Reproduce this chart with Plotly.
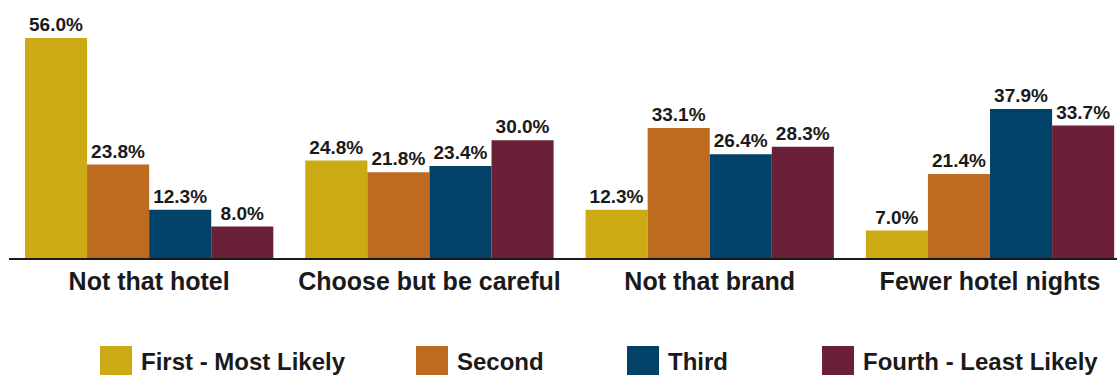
import plotly.graph_objects as go

categories = ["Not that hotel", "Choose but be careful", "Not that brand", "Fewer hotel nights"]
series_names = ["First - Most Likely", "Second", "Third", "Fourth - Least Likely"]
first = [56.0, 24.8, 12.3, 7.0]
second = [23.8, 21.8, 33.1, 21.4]
third = [12.3, 23.4, 26.4, 37.9]
fourth = [8.0, 30.0, 28.3, 33.7]
colors = ["#CBAA16", "#BC6B21", "#034268", "#6A2037"]

W, H = 1117, 375
ML, MR, MT, MB = 9, 0, 0, 117
FONT = "Liberation Sans, Arial, sans-serif"
TXT = "#1a1a1a"

fig = go.Figure()
for name, vals, col in zip(series_names, [first, second, third, fourth], colors):
    fig.add_trace(go.Bar(
        x=categories, y=vals, name=name, marker=dict(color=col, line=dict(width=0)),
        texttemplate="<b>%{y:.1f}%</b>", textposition="outside",
        textfont=dict(family=FONT, size=19, color=TXT), cliponaxis=False,
        showlegend=False,
    ))

# custom legend (large square swatches)
pw, ph = W - ML - MR, H - MT - MB
def px_x(p):
    return (p - ML) / pw
def px_y(p):
    return (H - MB - p) / ph
legend_x = [100, 416, 627, 822]
sq_w, sq_top, sq_bot = 32, 346, 375
for lx, name, col in zip(legend_x, series_names, colors):
    fig.add_shape(type="rect", xref="paper", yref="paper",
                  x0=px_x(lx), x1=px_x(lx + sq_w), y0=px_y(sq_bot), y1=px_y(sq_top),
                  fillcolor=col, line=dict(width=0), layer="above")
    fig.add_annotation(xref="paper", yref="paper", x=px_x(lx + sq_w + 7), y=px_y(361),
                       text=f"<b>{name}</b>", showarrow=False, xanchor="left", yanchor="middle",
                       font=dict(family=FONT, size=24, color=TXT))

fig.update_layout(
    width=W, height=H, margin=dict(l=ML, r=MR, t=MT, b=MB, pad=0),
    paper_bgcolor="white", plot_bgcolor="white",
    barmode="group", bargap=0.114, bargroupgap=0,
    font=dict(family=FONT, color=TXT),
    xaxis=dict(range=[-0.5, 3.453], showgrid=False, showline=True, linecolor="#1a1a1a",
               linewidth=2, ticks="", tickfont=dict(family=FONT, size=25, color=TXT, weight="bold"),
               fixedrange=True),
    yaxis=dict(range=[0, 65.67], showgrid=False, showticklabels=False, zeroline=False,
               showline=False, fixedrange=True),
)
fig.write_html("out.html")
